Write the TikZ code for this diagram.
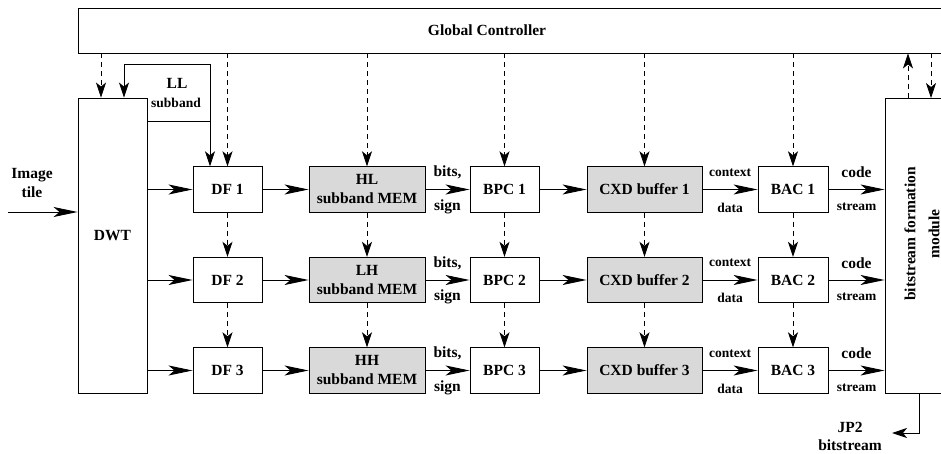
\documentclass[tikz,border=0pt]{standalone}
\usepackage{fontspec}
\setmainfont{Liberation Serif}
\usetikzlibrary{arrows.meta}
\definecolor{memgrey}{RGB}{217,217,217}
\begin{document}
\begin{tikzpicture}[x=1pt,y=-1pt,
  box/.style={draw, line width=0.9pt, fill=white, inner sep=0pt, font=\fontsize{15.5}{19}\selectfont\bfseries, align=center, minimum height=45.5pt},
  mem/.style={box, fill=memgrey},
  lbl/.style={font=\fontsize{15.5}{19}\selectfont\bfseries, inner sep=0pt, align=center},
  slbl/.style={font=\fontsize{13.5}{16}\selectfont\bfseries, inner sep=0pt},
  harr/.style={-{Stealth[length=24pt,width=10pt,inset=6pt]}, line width=0.9pt},
  varr/.style={-{Stealth[length=15pt,width=10pt,inset=4pt]}, line width=0.9pt},
  dline/.style={varr, line width=0.8pt, dash pattern=on 5pt off 4pt},
]
\useasboundingbox (0,0) rectangle (941,454);
\clip (0,0) rectangle (941,454);

% main blocks
\node[box, minimum width=902pt, minimum height=45pt] (gc) at (529,30.5) {};
\node[lbl] (gclabel) at (487,30) {Global Controller};
\node[box, minimum width=69pt, minimum height=295pt] (dwt) at (112.5,245.5) {};
\node[lbl] (dwtlabel) at (112.5,236) {DWT};
\node[box, minimum width=72pt, minimum height=294.5pt] (module) at (921,245.75) {};
\node[lbl, rotate=90, font=\fontsize{15.5}{24}\selectfont\bfseries] (modlabel) at (922,234) {bitstream formation\\module};

% rows
\foreach \i/\y in {1/189.5,2/280,3/370.5}{
  \node[box, minimum width=69pt] (df\i) at (227.5,\y) {DF \i};
  \node[box, minimum width=69pt] (bpc\i) at (504.5,\y) {BPC \i};
  \node[mem, minimum width=115pt] (cxd\i) at (644.5,\y) {CXD buffer \i};
  \node[box, minimum width=70pt] (bac\i) at (793,\y) {BAC \i};
}
\node[mem, minimum width=116pt] (mem1) at (367,189.5) {HL\\subband MEM};
\node[mem, minimum width=116pt] (mem2) at (367,280) {LH\\subband MEM};
\node[mem, minimum width=116pt] (mem3) at (367,370.5) {HH\\subband MEM};

% texts
\node[lbl] (imglabel) at (32,183) {Image\\tile};
\node[lbl] (lllabel) at (177,83) {LL};
\node[slbl] (llsub) at (176,103) {subband};
\node[lbl] (jp2label) at (850,427) {JP2};
\node[lbl] (jp2sub) at (850,445) {bitstream};

% input
\coordinate (imgin) at (8,212);
\draw[harr] (imgin) -- (imgin -| dwt.west);

% LL loop
\coordinate (llc) at (210,121);
\coordinate (lltop) at (210,64);
\coordinate (llleft) at (124,64);
\draw[line width=0.9pt] (dwt.east |- llc) -- (llc);
\draw[varr] (llc) -- (llc |- df1.north);
\draw[varr] (llc) -- (lltop) -- (llleft) -- (llleft |- dwt.north);

% controller lines
\coordinate (dwtc) at (101,0);
\draw[dline] (gc.south -| dwtc) -- (dwt.north -| dwtc);
\draw[dline] (gc.south -| df1.north) -- (df1.north);
\draw[dline] (gc.south -| mem1.north) -- (mem1.north);
\draw[dline] (gc.south -| bpc1.north) -- (bpc1.north);
\draw[dline] (gc.south -| cxd1.north) -- (cxd1.north);
\draw[dline] (gc.south -| bac1.north) -- (bac1.north);
\coordinate (upx) at (908,0);
\coordinate (dnx) at (931,0);
\draw[dline] (module.north -| upx) -- (gc.south -| upx);
\draw[dline] (gc.south -| dnx) -- (module.north -| dnx);

% row connections
\foreach \i in {1,2,3}{
  \draw[harr] (dwt.east |- df\i) -- (df\i.west);
  \draw[harr] (df\i) -- (mem\i);
  \draw[harr] (mem\i) -- node[lbl, midway, yshift=17pt] (bits\i) {bits,} node[lbl, midway, yshift=-17pt] (sign\i) {sign} (bpc\i);
  \draw[harr] (bpc\i) -- (cxd\i);
  \draw[harr] (cxd\i) -- node[slbl, midway, yshift=17pt] (ctx\i) {context} node[slbl, midway, yshift=-18pt] (data\i) {data} (bac\i);
  \draw[harr] (bac\i) -- node[lbl, midway, yshift=17pt] (code\i) {code} node[slbl, midway, yshift=-17pt] (strm\i) {stream} (bac\i -| module.west);
}
\foreach \a/\b in {df1/df2,df2/df3,mem1/mem2,mem2/mem3,bpc1/bpc2,bpc2/bpc3,cxd1/cxd2,cxd2/cxd3,bac1/bac2,bac2/bac3}{
  \draw[dline] (\a) -- (\b);
}

% output
\coordinate (jp2x) at (919,0);
\coordinate (jp2end) at (892,433);
\draw[varr] (module.south -| jp2x) |- (jp2end);
\end{tikzpicture}
\end{document}
